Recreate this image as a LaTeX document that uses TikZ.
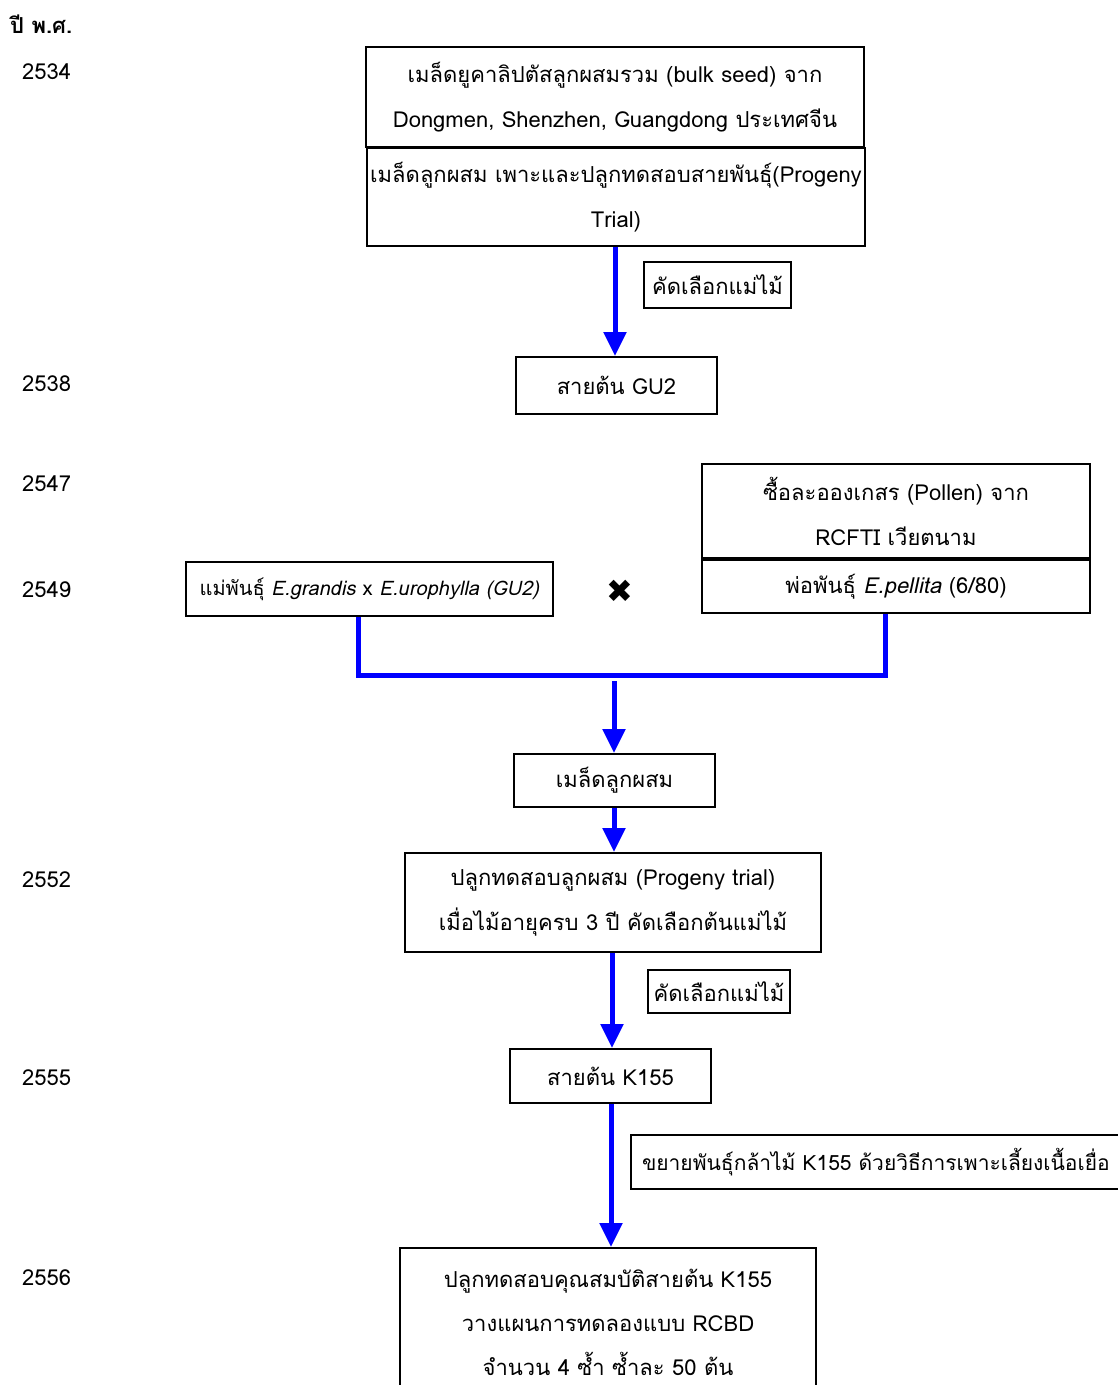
\documentclass[tikz,border=0pt]{standalone}
\usepackage{fontspec}
\setmainfont[Script=Thai]{Loma}
\newfontfamily\symfont{DejaVu Sans}
\usetikzlibrary{arrows.meta}
\definecolor{flowblue}{RGB}{0,0,255}
\begin{document}
\begin{tikzpicture}[x=1pt,y=-1pt,
  box/.style={draw=black,line width=2pt,inner sep=0pt,align=center,
    font=\fontsize{22}{45}\selectfont},
  txt/.style={inner sep=0pt,align=center,font=\fontsize{22}{44}\selectfont},
  yearlbl/.style={anchor=west,inner sep=0pt,font=\fontsize{22}{26}\selectfont},
  arr/.style={draw=flowblue,line width=5pt,-{Triangle[width=22pt,length=24pt]}},
  bline/.style={draw=flowblue,line width=5pt}]
\useasboundingbox (0,0) rectangle (1118,1385);
% year column
\node[yearlbl,font=\bfseries\fontsize{22}{26}\selectfont] (hdr) at (10,24) {ปี พ.ศ.};
\node[yearlbl] (y1) at (22,72) {2534};
\node[yearlbl] (y2) at (22,384) {2538};
\node[yearlbl] (y3) at (22,484) {2547};
\node[yearlbl] (y4) at (22,590) {2549};
\node[yearlbl] (y5) at (22,880) {2552};
\node[yearlbl] (y6) at (22,1078) {2555};
\node[yearlbl] (y7) at (22,1278) {2556};
% boxes
\node[box,minimum width=498,minimum height=100] (b1) at (615,97)
  {เมล็ดยูคาลิปตัสลูกผสมรวม (bulk seed) จาก\\Dongmen, Shenzhen, Guangdong ประเทศจีน};
\node[box,minimum width=498,minimum height=98] (b2) at (616,197)
  {เมล็ดลูกผสม เพาะและปลูกทดสอบสายพันธุ์(Progeny\\Trial)};
\node[box,minimum width=147,minimum height=46] (l1) at (717.5,285) {คัดเลือกแม่ไม้};
\node[box,minimum width=201,minimum height=57] (gu2) at (616.5,385.5) {สายต้น GU2};
\node[box,minimum width=388,minimum height=94] (pol) at (896,511)
  {ซื้อละอองเกสร (Pollen) จาก\\RCFTI เวียตนาม};
\node[box,minimum width=388,minimum height=53] (fa) at (896,586.5)
  {พ่อพันธุ์ \textit{E.pellita} (6/80)};
\node[box,minimum width=367,minimum height=54,font=\fontsize{20}{24}\selectfont] (mo) at (369.5,589)
  {แม่พันธุ์ \textit{E.grandis} x \textit{E.urophylla (GU2)}};
\node[inner sep=0pt,font=\symfont\fontsize{32}{32}\selectfont] (cross) at (620,591) {✖};
\node[box,minimum width=201,minimum height=53] (seed) at (614.5,780.5) {เมล็ดลูกผสม};
\node[box,minimum width=416,minimum height=99] (prog) at (613,902.5)
  {ปลูกทดสอบลูกผสม (Progeny trial)\\เมื่อไม้อายุครบ 3 ปี คัดเลือกต้นแม่ไม้};
\node[box,minimum width=142,minimum height=43] (l2) at (719,991.5) {คัดเลือกแม่ไม้};
\node[box,minimum width=201,minimum height=54] (k155) at (610.5,1076) {สายต้น K155};
\node[box,anchor=west,minimum width=520,minimum height=54,text width=520,align=left,
  font=\fontsize{21}{26}\selectfont] (l3) at (630,1162)
  {\hspace*{11pt}ขยายพันธุ์กล้าไม้ K155 ด้วยวิธีการเพาะเลี้ยงเนื้อเยื่อ};
\node[box,minimum width=416,minimum height=160] (fin) at (608,1328) {};
\node[txt] (fintxt) at (608,1322)
  {ปลูกทดสอบคุณสมบัติสายต้น K155\\วางแผนการทดลองแบบ RCBD\\จำนวน 4 ซ้ำ ซ้ำละ 50 ต้น};
% connectors
\draw[arr] ([xshift=-1pt]b2.south) -- ([xshift=-1pt]b2.south |- gu2.north);
\coordinate (jn) at (614,675);
\coordinate (js) at (614,681);
\draw[bline] ([xshift=-11.5pt]mo.south) |- (jn) -| ([xshift=-11pt]fa.south);
\draw[arr] (js) -- (js |- seed.north);
\draw[arr] (seed.south -| 614,0) -- (614,0 |- prog.north);
\draw[arr] (prog.south -| 612,0) -- (612,0 |- k155.north);
\draw[arr] (k155.south -| 611,0) -- (611,0 |- fin.north);
\end{tikzpicture}
\end{document}
